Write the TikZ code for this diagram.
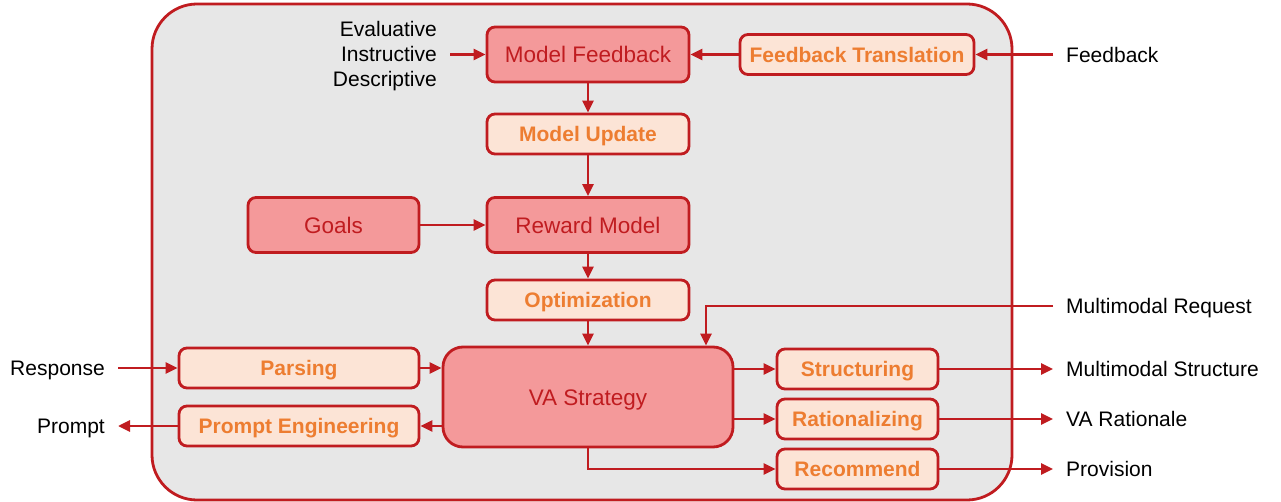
\documentclass[tikz,border=0pt]{standalone}
\usepackage{fontspec}
\setmainfont{Liberation Sans}
\usetikzlibrary{arrows.meta, positioning}
\definecolor{vared}{RGB}{192,28,32}
\definecolor{vapink}{RGB}{244,153,154}
\definecolor{valight}{RGB}{252,228,214}
\definecolor{vaorange}{RGB}{237,125,49}
\definecolor{vaframe}{RGB}{231,231,231}
\tikzset{
	pinkbox/.style = {draw=vared, line width=2.8pt, fill=vapink, rounded corners=8pt,
		text=vared, font=\fontsize{22.5}{27}\selectfont, text height=16.2pt, text depth=0pt,
		minimum width=202pt, minimum height=55pt},
	lightbox/.style = {draw=vared, line width=2.8pt, fill=valight, rounded corners=8pt,
		text=vaorange, font=\fontsize{21}{25}\selectfont\bfseries, text height=15.1pt, text depth=0pt,
		minimum width=202pt, minimum height=40pt},
	lbl/.style = {font=\fontsize{21}{25}\selectfont, inner xsep=13pt, inner ysep=0pt,
		text height=15.1pt, text depth=0pt},
	arr/.style = {draw=vared, line width=2.8pt, -{Triangle[length=12pt,width=11pt]}},
}
\begin{document}
\begin{tikzpicture}[x=1pt, y=-1pt]
\useasboundingbox (0,0) rectangle (1281,502);
% frame
\draw[draw=vared, line width=2.8pt, fill=vaframe, rounded corners=45pt] (152,4) rectangle (1012,500);
% feedback loop
\node[pinkbox] (mfb) at (588,54.5) {Model Feedback};
\node[lightbox, minimum width=234pt] (ftr) at (857,54.5) {Feedback Translation};
\node[lightbox] (mup) at (588,134) {Model Update};
\node[pinkbox, minimum width=171pt] (goals) at (333.5,225) {Goals};
\node[pinkbox] (rwd) at (588,225) {Reward Model};
\node[lightbox] (opt) at (588,300) {Optimization};
% strategy
\node[pinkbox, rounded corners=20pt, minimum width=290pt, minimum height=100pt] (va) at (588,397) {VA Strategy};
\node[lightbox, minimum width=240pt] (pars) at (299,368) {Parsing};
\node[lightbox, minimum width=240pt] (peng) at (299,426) {Prompt Engineering};
\node[lightbox, minimum width=161pt] (struc) at (857.5,369) {Structuring};
\node[lightbox, minimum width=161pt] (ratio) at (857.5,419) {Rationalizing};
\node[lightbox, minimum width=161pt] (rec) at (857.5,469) {Recommend};
% outside labels
\node[font=\fontsize{21}{25}\selectfont, inner xsep=13pt, inner ysep=0pt, align=right, anchor=east]
	(kinds) at (450,56.5) {Evaluative\\Instructive\\Descriptive};
\node[lbl, anchor=west] (fb) at (1053,54.5) {Feedback};
\node[lbl, anchor=east] (resp) at (118,368) {Response};
\node[lbl, anchor=east] (prompt) at (118,426) {Prompt};
\node[lbl, anchor=west] (mreq) at (1053,306) {Multimodal Request};
\node[lbl, anchor=west] (mstruc) at (1053,369) {Multimodal Structure};
\node[lbl, anchor=west] (varat) at (1053,419) {VA Rationale};
\node[lbl, anchor=west] (prov) at (1053,469) {Provision};
% connectors
\draw[arr] (kinds.east |- mfb.west) -- (mfb.west);
\draw[arr] (fb.west) -- (ftr.east);
\draw[arr] (ftr.west) -- (mfb.east);
\draw[arr] (mfb) -- (mup);
\draw[arr] (mup) -- (rwd);
\draw[arr] (goals) -- (rwd);
\draw[arr] (rwd) -- (opt);
\draw[arr] (opt) -- (va);
\draw[arr] (mreq.west) -| ([xshift=118pt]va.north);
\draw[arr] (resp.east) -- (pars.west);
\draw[arr] (pars.east) -- (pars.east -| va.west);
\draw[arr] (peng.east -| va.west) -- (peng.east);
\draw[arr] (peng.west) -- (prompt.east);
\draw[arr] (struc.west -| va.east) -- (struc.west);
\draw[arr] (ratio.west -| va.east) -- (ratio.west);
\draw[arr] (va.south) |- (rec.west);
\draw[arr] (struc.east) -- (mstruc.west);
\draw[arr] (ratio.east) -- (varat.west);
\draw[arr] (rec.east) -- (prov.west);
\end{tikzpicture}
\end{document}
